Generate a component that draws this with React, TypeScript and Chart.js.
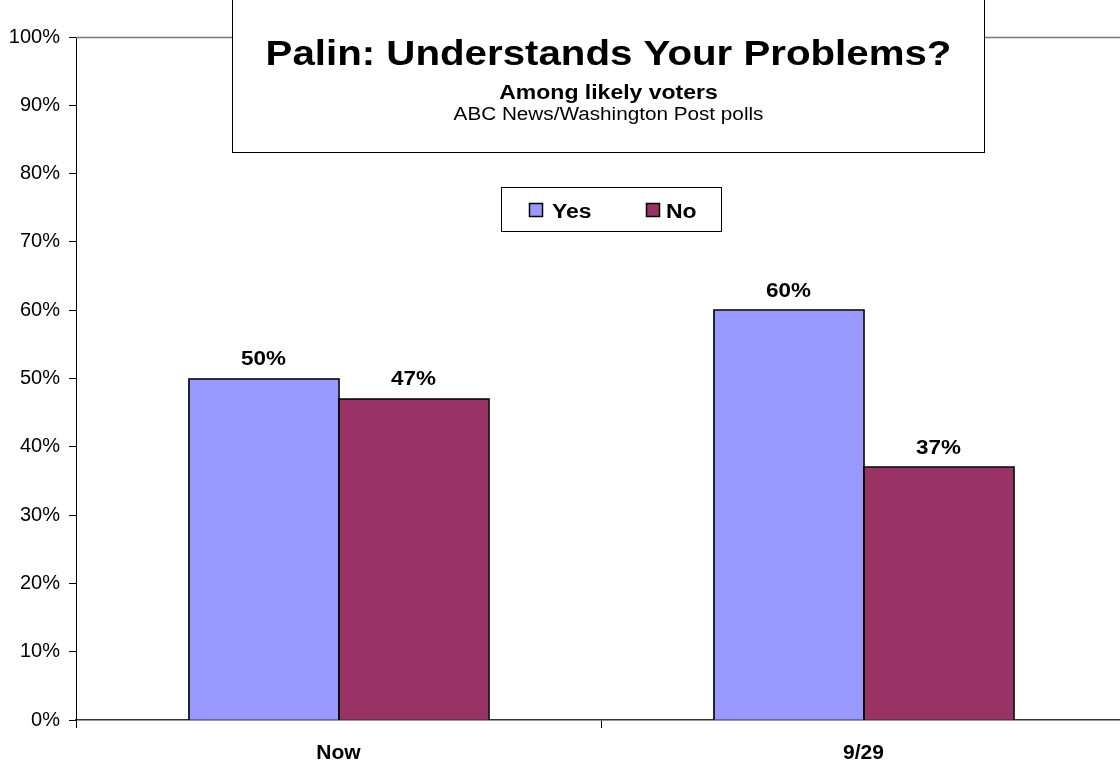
import React, { useEffect, useRef } from "react";
import { Chart, registerables } from "chart.js";

Chart.register(...registerables);

const categories = ["Now", "9/29"];
const seriesNames = ["Yes", "No"];
const yesValues = [50, 60];
const noValues = [47, 37];
const yTickValues = [0, 10, 20, 30, 40, 50, 60, 70, 80, 90, 100];
const titleText = "Palin: Understands Your Problems?";
const subtitleText = "Among likely voters";
const sourceText = "ABC News/Washington Post polls";

const FONT = '"Liberation Sans", Arial, Helvetica, sans-serif';
const STRETCH = 1.15;
const COLORS = ["#9999FF", "#993366"];

function drawText(
  ctx: CanvasRenderingContext2D,
  text: string,
  x: number,
  y: number,
  font: string,
  align: CanvasTextAlign
) {
  ctx.save();
  ctx.translate(x, y);
  ctx.scale(STRETCH, 1);
  ctx.font = font;
  ctx.fillStyle = "#000";
  ctx.textAlign = align;
  ctx.textBaseline = "alphabetic";
  ctx.fillText(text, 0, 0);
  ctx.restore();
}

const decorPlugin = {
  id: "decor",
  afterDatasetsDraw(chart: any) {
    const ctx = chart.ctx as CanvasRenderingContext2D;
    const base = chart.chartArea.bottom;
    chart.data.datasets.forEach((ds: any, i: number) => {
      const meta = chart.getDatasetMeta(i);
      meta.data.forEach((bar: any, j: number) => {
        const l = Math.round(bar.x - bar.width / 2);
        const r = Math.round(bar.x + bar.width / 2);
        const t = Math.round(bar.y);
        ctx.save();
        ctx.strokeStyle = "#000";
        ctx.lineWidth = 1.6;
        ctx.beginPath();
        ctx.moveTo(l, base);
        ctx.lineTo(l, t);
        ctx.lineTo(r, t);
        ctx.lineTo(r, base);
        ctx.stroke();
        ctx.restore();
        drawText(ctx, ds.data[j] + "%", bar.x, bar.y - 13.5, `bold 19.5px ${FONT}`, "center");
      });
    });
  },
  afterDraw(chart: any) {
    const ctx = chart.ctx as CanvasRenderingContext2D;
    const a = chart.chartArea;
    // plot frame (top + right)
    ctx.save();
    ctx.strokeStyle = "#7a7a7a";
    ctx.lineWidth = 1.5;
    ctx.beginPath();
    ctx.moveTo(a.left, Math.round(a.top) + 0.5);
    ctx.lineTo(a.right, Math.round(a.top) + 0.5);
    ctx.lineTo(a.right, a.bottom);
    ctx.stroke();
    ctx.restore();

    // title box
    ctx.save();
    ctx.fillStyle = "#fff";
    ctx.strokeStyle = "#000";
    ctx.lineWidth = 1;
    ctx.fillRect(232, -2, 753, 154);
    ctx.strokeRect(232.5, -2, 752, 154.5);
    ctx.restore();
    const cx = 232 + 753 / 2;
    drawText(ctx, titleText, cx, 65, `bold 35px ${FONT}`, "center");
    drawText(ctx, subtitleText, cx, 99, `bold 20px ${FONT}`, "center");
    drawText(ctx, sourceText, cx, 120, `18px ${FONT}`, "center");

    // legend box
    ctx.save();
    ctx.fillStyle = "#fff";
    ctx.strokeStyle = "#000";
    ctx.lineWidth = 1;
    ctx.fillRect(501, 187, 221, 45);
    ctx.strokeRect(501.5, 187.5, 220, 44);
    const items = [
      { sx: 529, tx: 552 },
      { sx: 646, tx: 666 },
    ];
    chart.data.datasets.forEach((ds: any, i: number) => {
      const it = items[i];
      ctx.fillStyle = ds.backgroundColor;
      ctx.fillRect(it.sx, 203, 14, 14);
      ctx.strokeStyle = "#000";
      ctx.lineWidth = 1.5;
      ctx.strokeRect(it.sx + 0.5, 203.5, 13, 13);
      drawText(ctx, ds.label, it.tx, 218, `bold 20px ${FONT}`, "left");
    });
    ctx.restore();
  },
};

export default function App() {
  const ref = useRef<HTMLCanvasElement | null>(null);
  useEffect(() => {
    if (!ref.current) return;
    const chart = new Chart(ref.current, {
      type: "bar",
      data: {
        labels: categories,
        datasets: [
          {
            label: seriesNames[0],
            data: yesValues,
            backgroundColor: COLORS[0],
            borderWidth: 0,
            categoryPercentage: 300 / 525,
            barPercentage: 1,
          },
          {
            label: seriesNames[1],
            data: noValues,
            backgroundColor: COLORS[1],
            borderWidth: 0,
            categoryPercentage: 300 / 525,
            barPercentage: 1,
          },
        ],
      },
      options: {
        responsive: false,
        animation: false,
        devicePixelRatio: 1,
        layout: { padding: { top: 37, right: 4, left: 0, bottom: 0 } },
        plugins: {
          legend: { display: false },
          title: { display: false },
          tooltip: { enabled: false },
        },
        scales: {
          x: {
            offset: true,
            grid: {
              offset: true,
              drawOnChartArea: false,
              drawTicks: true,
              tickLength: 8,
              color: "#000",
            },
            border: { display: true, color: "#333", width: 1.5 },
            ticks: {
              color: "#000",
              font: { family: FONT, size: 21, weight: "bold" },
              padding: 13,
              maxRotation: 0,
            },
            afterFit: (s: any) => {
              s.height = 46;
            },
          },
          y: {
            min: 0,
            max: 100,
            afterBuildTicks: (s: any) => {
              s.ticks = yTickValues.map((v) => ({ value: v }));
            },
            grid: {
              drawOnChartArea: false,
              drawTicks: true,
              tickLength: 7,
              color: "#000",
            },
            border: { display: true, color: "#000", width: 1 },
            ticks: {
              color: "#000",
              font: { family: FONT, size: 20 },
              padding: 9,
              callback: (v: any) => v + "%",
            },
            afterFit: (s: any) => {
              s.width = 76;
            },
          },
        },
      },
      plugins: [decorPlugin],
    });
    return () => chart.destroy();
  }, []);
  return (
    <div
      style={{
        position: "fixed",
        left: 0,
        top: 0,
        width: 1120,
        height: 766,
        overflow: "hidden",
        background: "#fff",
      }}
    >
      <canvas ref={ref} width={1130} height={766} style={{ display: "block" }} />
    </div>
  );
}
